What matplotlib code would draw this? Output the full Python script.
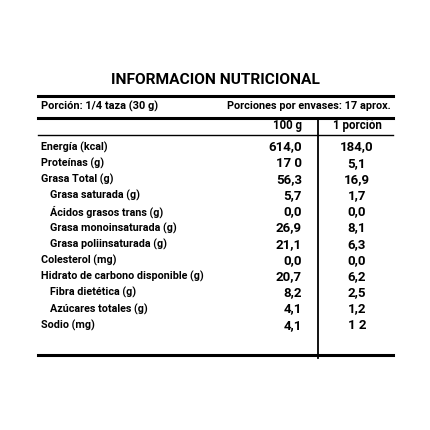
import matplotlib
matplotlib.use("Agg")
import matplotlib.pyplot as plt

title = "INFORMACION NUTRICIONAL"
portion = "Porción: 1/4 taza (30 g)"
servings = "Porciones por envases: 17 aprox."
col_heads = ["100 g", "1 porción"]
nutrients = ["Energía (kcal)", "Proteínas (g)", "Grasa Total (g)", "Grasa saturada (g)",
             "Ácidos grasos trans (g)", "Grasa monoinsaturada (g)", "Grasa poliinsaturada (g)",
             "Colesterol (mg)", "Hidrato de carbono disponible (g)", "Fibra dietética (g)",
             "Azúcares totales (g)", "Sodio (mg)"]
indented = [False, False, False, True, True, True, True, False, False, True, True, False]
per100 = ["614,0", "17 0", "56,3", "5,7", "0,0", "26,9", "21,1", "0,0", "20,7", "8,2", "4,1", "4,1"]
perportion = ["184,0", "5,1", "16,9", "1,7", "0,0", "8,1", "6,3", "0,0", "6,2", "2,5", "1,2", "1 2"]

fam = ["Roboto", "DejaVu Sans"]
fig = plt.figure(figsize=(4.3, 4.3), dpi=100)
ax = fig.add_axes([0, 0, 1, 1])
ax.set_xlim(0, 430); ax.set_ylim(430, 0); ax.axis("off")
renderer = fig.canvas.get_renderer()

def fit(t, width):
    t.set_fontsize(10)
    w = t.get_window_extent(renderer).width
    t.set_fontsize(10 * width / w)

t = ax.text(215, 80, title, ha="center", va="center", fontweight="bold", family=fam)
fit(t, 208)
ax.plot([38, 393], [96, 96], color="k", lw=2.2)
t = ax.text(41, 106, portion, ha="left", va="center", fontweight="bold", family=fam)
fit(t, 117)
t = ax.text(391, 106, servings, ha="right", va="center", fontweight="bold", family=fam)
fit(t, 163)
ax.plot([38, 393], [118, 118], color="k", lw=2.2)
fs = 8.3
ax.text(302, 126, col_heads[0], ha="right", va="center", fontsize=fs, fontweight="bold", family=fam)
ax.text(357, 126, col_heads[1], ha="center", va="center", fontsize=fs, fontweight="bold", family=fam)
ax.plot([38, 393], [135, 135], color="k", lw=1.0)
ax.plot([318, 318], [118, 358], color="k", lw=1.3)

t = ax.text(0, 0, nutrients[8], fontweight="bold", family=fam)
fit(t, 162)
lfs = t.get_fontsize()
t.remove()

y0, dy = 147, 16.2
for i, (n, ind, a, b) in enumerate(zip(nutrients, indented, per100, perportion)):
    y = y0 + i * dy
    ax.text(50 if ind else 41, y, n, ha="left", va="center", fontsize=lfs, fontweight="bold", family=fam)
    ax.text(302, y, a, ha="right", va="center", fontsize=9.5, fontweight="bold", family=fam)
    ax.text(357, y, b, ha="center", va="center", fontsize=9.5, fontweight="bold", family=fam)
ax.plot([38, 393], [355, 355], color="k", lw=2.2)
fig.savefig("out.png", dpi=100, facecolor="white")
